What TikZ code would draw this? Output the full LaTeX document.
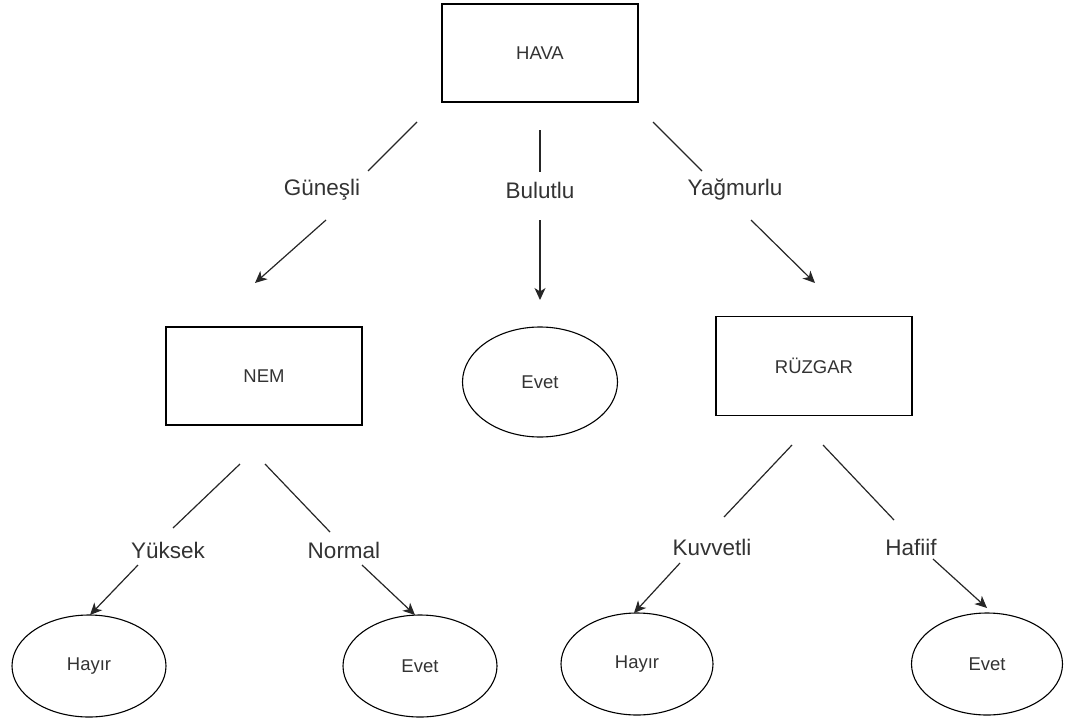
\documentclass[tikz,border=0pt]{standalone}
\usepackage{fontspec}
\setmainfont{Liberation Sans}
\usetikzlibrary{shapes.geometric,arrows.meta}
\definecolor{ink}{RGB}{51,51,51}
\tikzset{
  box/.style={draw=black, line width=1.3pt, rectangle, minimum width=196pt, minimum height=98pt, inner sep=0pt, text=ink, font=\fontsize{18.5}{21}\selectfont},
  leaf/.style={draw=black, line width=1.1pt, ellipse, inner sep=0pt, text=ink, font=\fontsize{18.5}{21}\selectfont},
  elabel/.style={text=ink, inner sep=0pt, font=\fontsize{22.5}{26}\selectfont},
  link/.style={draw=black!85, line width=1.2pt},
  arr/.style={draw=black!85, line width=1.2pt, -{Stealth[length=12pt,width=11pt,inset=3.5pt]}}
}
\begin{document}
\begin{tikzpicture}[x=1pt,y=-1pt]
\useasboundingbox (0,0) rectangle (1065,720);

% decision nodes
\node[box] (hava) at (540,53) {HAVA};
\node[box] (nem) at (264,376) {NEM};
\node[box, minimum height=99pt] (ruzgar) at (814,366) {RÜZGAR};

% leaves
\node[leaf, minimum width=155pt, minimum height=110pt] (evetA) at (540,382) {Evet};
\node[leaf, minimum width=154pt, minimum height=102pt] (hayirA) at (89,666) {Hayır};
\node[leaf, minimum width=154pt, minimum height=102pt] (evetB) at (420,666) {Evet};
\node[leaf, minimum width=152pt, minimum height=102pt] (hayirB) at (637,664) {Hayır};
\node[leaf, minimum width=151pt, minimum height=102pt] (evetC) at (987,664) {Evet};

% branch labels
\node[elabel] (gunesli) at (322,190) {Güneşli};
\node[elabel] (bulutlu) at (540,190) {Bulutlu};
\node[elabel] (yagmurlu) at (735,190) {Yağmurlu};
\node[elabel] (yuksek) at (168,550) {Yüksek};
\node[elabel] (normal) at (344,550) {Normal};
\node[elabel] (kuvvetli) at (712,547) {Kuvvetli};
\node[elabel] (hafiif) at (911,547) {Hafiif};

% free ends of the branch segments
\coordinate (g1) at (417,122); \coordinate (g2) at (368,171);
\coordinate (g3) at (326,220); \coordinate (g4) at (255,283);
\coordinate (b1) at (540,130); \coordinate (b2) at (540,172);
\coordinate (b3) at (540,220); \coordinate (b4) at (540,300);
\coordinate (y1) at (653,122); \coordinate (y2) at (702,171);
\coordinate (y3) at (751,220); \coordinate (y4) at (815,283);
\coordinate (k1) at (240,464); \coordinate (k2) at (173,528);
\coordinate (k3) at (138,565); \coordinate (k4) at (90,615);
\coordinate (n1) at (265,464); \coordinate (n2) at (330,532);
\coordinate (n3) at (362,565); \coordinate (n4) at (415,615);
\coordinate (v1) at (792,445); \coordinate (v2) at (724,517);
\coordinate (v3) at (680,563); \coordinate (v4) at (634,613);
\coordinate (h1) at (823,445); \coordinate (h2) at (894,520);
\coordinate (h3) at (933,559); \coordinate (h4) at (987,608);

% HAVA branches
\draw[link] (g1) -- (g2);  \draw[arr] (g3) -- (g4);
\draw[link] (b1) -- (b2);  \draw[arr] (b3) -- (b4);
\draw[link] (y1) -- (y2);  \draw[arr] (y3) -- (y4);
% NEM branches
\draw[link] (k1) -- (k2);  \draw[arr] (k3) -- (k4);
\draw[link] (n1) -- (n2);  \draw[arr] (n3) -- (n4);
% RÜZGAR branches
\draw[link] (v1) -- (v2);  \draw[arr] (v3) -- (v4);
\draw[link] (h1) -- (h2);  \draw[arr] (h3) -- (h4);
\end{tikzpicture}
\end{document}
